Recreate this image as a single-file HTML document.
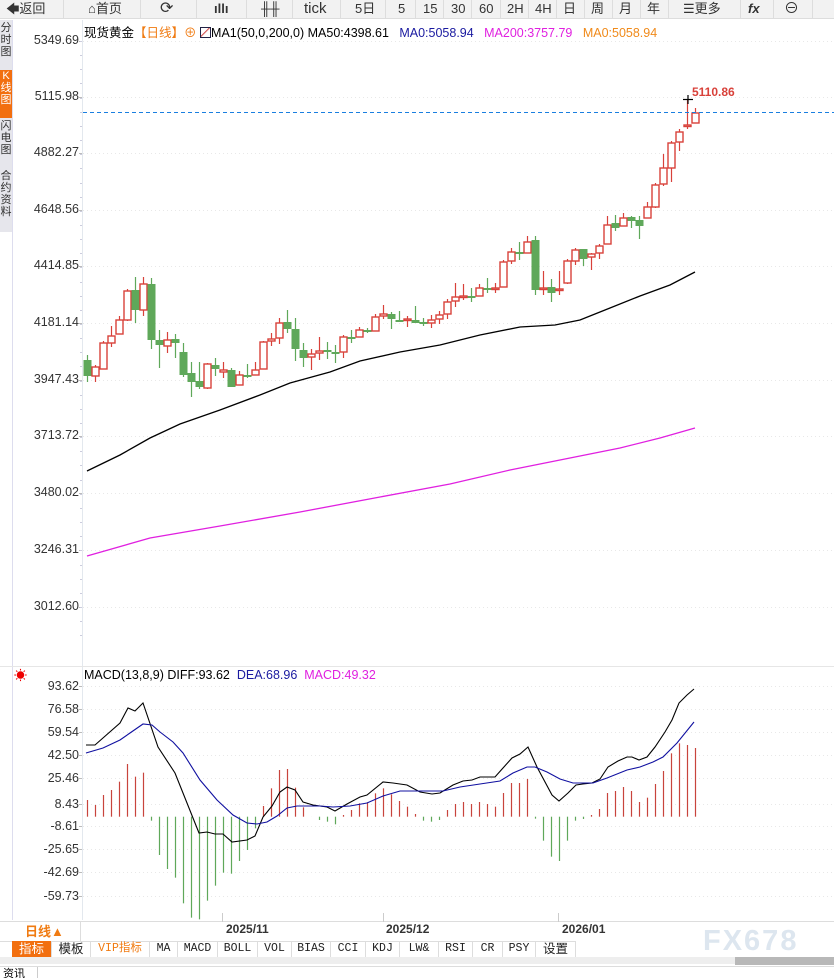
<!DOCTYPE html>
<html><head><meta charset="utf-8">
<style>
*{margin:0;padding:0;box-sizing:border-box}
body{width:834px;height:978px;overflow:hidden;background:#fff;font-family:"Liberation Sans","Noto Sans CJK SC",sans-serif;position:relative}
.abs{position:absolute;white-space:nowrap}
#tb{position:absolute;left:0;top:0;width:834px;height:19px;background:#f2f2f2;border-bottom:1px solid #ddd}
#tb span{position:absolute;top:0;height:19px;line-height:18px;font-size:13px;color:#333}
.sep{position:absolute;top:0;width:1px;height:19px;background:#ddd}
#ls{position:absolute;left:0;top:20px;width:12px;height:212px;background:#e6e6ec}
#ls div{position:absolute;left:0;width:12px;font-size:11px;line-height:12px;color:#333;text-align:center;word-break:break-all;overflow:hidden}
.yl{position:absolute;right:755px;font-size:12.5px;color:#333;text-align:right}
.tab{position:absolute;top:941px;height:16px;line-height:16px;font-size:11.5px;color:#222;text-align:center;border-right:1px solid #ddd;font-family:"Liberation Mono","Noto Sans CJK SC",monospace}
</style></head><body>
<div id="tb">
<span style="left:6px">🡄返回</span><div class="sep" style="left:63px"></div>
<span style="left:88px">⌂首页</span><div class="sep" style="left:140px"></div>
<span style="left:160px;font-size:16px">⟳</span><div class="sep" style="left:196px"></div>
<span style="left:214px;font-weight:bold">ıllı</span><div class="sep" style="left:246px"></div>
<span style="left:261px;font-weight:bold">╫╫</span><div class="sep" style="left:292px"></div>
<span style="left:304px;font-size:15px">tick</span><div class="sep" style="left:340px"></div>
<span style="left:355px">5日</span><div class="sep" style="left:385px"></div>
<span style="left:398px">5</span><div class="sep" style="left:415px"></div>
<span style="left:423px">15</span><div class="sep" style="left:443px"></div>
<span style="left:451px">30</span><div class="sep" style="left:471px"></div>
<span style="left:479px">60</span><div class="sep" style="left:500px"></div>
<span style="left:507px">2H</span><div class="sep" style="left:528px"></div>
<span style="left:535px">4H</span><div class="sep" style="left:556px"></div>
<span style="left:563px">日</span><div class="sep" style="left:584px"></div>
<span style="left:591px">周</span><div class="sep" style="left:612px"></div>
<span style="left:619px">月</span><div class="sep" style="left:640px"></div>
<span style="left:647px">年</span><div class="sep" style="left:668px"></div>
<span style="left:683px">☰更多</span><div class="sep" style="left:740px"></div>
<span style="left:748px;font-weight:bold;font-style:italic">fx</span><div class="sep" style="left:773px"></div>
<span style="left:784px;font-size:15px">⊖</span><div class="sep" style="left:812px"></div>
</div>
<div id="ls">
<div style="top:2px;height:46px">分时图</div>
<div style="top:50px;height:48px;background:#f26f0f;color:#fff">K线图</div>
<div style="top:100px;height:46px">闪电图</div>
<div style="top:150px;height:60px">合约资料</div>
</div>
<div class="abs" style="left:12px;top:20px;width:1px;height:900px;background:#dde"></div>
<div class="abs" style="left:82px;top:20px;width:1px;height:900px;background:#e3e8ee"></div>
<div class="abs" style="left:0;top:666px;width:834px;height:1px;background:#e6e6e6"></div>

<div class="abs" style="left:84px;top:22px;font-size:12.5px;color:#000">现货黄金<span style="color:#f07b12">【日线】</span><span style="color:#f07b12">⊕</span> <span style="display:inline-block;width:11px;height:11px;border:1px solid #224;vertical-align:-1px;background:linear-gradient(135deg,#fff 40%,#c33 45%,#fff 55%)"></span>MA1(50,0,200,0) MA50:4398.61&nbsp;&nbsp;&nbsp;<span style="color:#1a1aa0">MA0:5058.94</span>&nbsp;&nbsp;&nbsp;<span style="color:#e020e0">MA200:3757.79</span>&nbsp;&nbsp;&nbsp;<span style="color:#f08a1a">MA0:5058.94</span></div>

<div class="yl" style="top:33px">5349.69</div>
<div class="yl" style="top:89px">5115.98</div>
<div class="yl" style="top:145px">4882.27</div>
<div class="yl" style="top:202px">4648.56</div>
<div class="yl" style="top:258px">4414.85</div>
<div class="yl" style="top:315px">4181.14</div>
<div class="yl" style="top:372px">3947.43</div>
<div class="yl" style="top:428px">3713.72</div>
<div class="yl" style="top:485px">3480.02</div>
<div class="yl" style="top:542px">3246.31</div>
<div class="yl" style="top:599px">3012.60</div>

<div class="abs" style="left:14px;top:665px;color:#e00;font-size:13px">☀</div>
<div class="abs" style="left:84px;top:668px;font-size:12.5px;color:#000">MACD(13,8,9) DIFF:93.62&nbsp;&nbsp;<span style="color:#1a1aa0">DEA:68.96</span>&nbsp;&nbsp;<span style="color:#e020e0">MACD:49.32</span></div>
<div class="yl" style="top:679px">93.62</div>
<div class="yl" style="top:702px">76.58</div>
<div class="yl" style="top:725px">59.54</div>
<div class="yl" style="top:748px">42.50</div>
<div class="yl" style="top:771px">25.46</div>
<div class="yl" style="top:797px">8.43</div>
<div class="yl" style="top:819px">-8.61</div>
<div class="yl" style="top:842px">-25.65</div>
<div class="yl" style="top:865px">-42.69</div>
<div class="yl" style="top:889px">-59.73</div>

<svg id="sv" class="abs" style="left:0;top:0" width="834" height="978"></svg>

<div class="abs" style="left:0;top:921px;width:834px;height:1px;background:#ddd"></div>
<div class="abs" style="left:12px;top:922px;width:69px;height:19px;border-right:1px solid #ddd;color:#f07b12;font-size:13px;line-height:19px;padding-left:13px;font-weight:bold">日线▲</div>
<div class="abs" style="left:226px;top:922px;font-size:12px;font-weight:bold;color:#333">2025/11</div>
<div class="abs" style="left:386px;top:922px;font-size:12px;font-weight:bold;color:#333">2025/12</div>
<div class="abs" style="left:562px;top:922px;font-size:12px;font-weight:bold;color:#333">2026/01</div>
<div class="abs" style="left:222px;top:913px;width:1px;height:9px;background:#ccc"></div>
<div class="abs" style="left:383px;top:913px;width:1px;height:9px;background:#ccc"></div>
<div class="abs" style="left:558px;top:913px;width:1px;height:9px;background:#ccc"></div>
<div class="abs" style="left:0;top:941px;width:576px;height:1px;background:#ddd"></div>
<div class="tab" style="left:12px;width:40px;background:#f26f0f;color:#fff;font-family:'Liberation Sans','Noto Sans CJK SC',sans-serif;font-size:12.5px">指标</div>
<div class="tab" style="left:52px;width:39px;font-family:'Liberation Sans','Noto Sans CJK SC',sans-serif;font-size:12.5px">模板</div>
<div class="tab" style="left:91px;width:59px;color:#f07b12">VIP指标</div>
<div class="tab" style="left:150px;width:28px">MA</div>
<div class="tab" style="left:178px;width:40px">MACD</div>
<div class="tab" style="left:218px;width:40px">BOLL</div>
<div class="tab" style="left:258px;width:34px">VOL</div>
<div class="tab" style="left:292px;width:39px">BIAS</div>
<div class="tab" style="left:331px;width:35px">CCI</div>
<div class="tab" style="left:366px;width:34px">KDJ</div>
<div class="tab" style="left:400px;width:39px">LW&amp;</div>
<div class="tab" style="left:439px;width:34px">RSI</div>
<div class="tab" style="left:473px;width:30px">CR</div>
<div class="tab" style="left:503px;width:33px">PSY</div>
<div class="tab" style="left:536px;width:40px;font-family:'Liberation Sans','Noto Sans CJK SC',sans-serif;font-size:12.5px">设置</div>
<div class="abs" style="left:703px;top:925px;font-size:29px;color:#dde6ef;letter-spacing:2px;font-weight:bold">FX678</div>
<div class="abs" style="left:0;top:957px;width:834px;height:7px;background:#eeeeee"></div>
<div class="abs" style="left:735px;top:957px;width:99px;height:8px;background:#b8b8b8"></div>
<div class="abs" style="left:0;top:966px;width:834px;height:1px;background:#ddd"></div>
<div class="abs" style="left:0;top:967px;width:38px;height:11px;border-right:1px solid #ccc;font-size:11px;line-height:14px;padding-left:3px;overflow:hidden">资讯</div>

<script>
var S='';
function L(x1,y1,x2,y2,c,w,d){S+='<line x1="'+x1+'" y1="'+y1+'" x2="'+x2+'" y2="'+y2+'" stroke="'+c+'" stroke-width="'+(w||1)+'"'+(d?' stroke-dasharray="'+d+'"':'')+'/>';}
[41,97,153,210,266,323,380,436,493,550,607].forEach(function(y){L(83,y+.5,834,y+.5,'#e8e8e8',1,'1,3');L(79,y+.5,82,y+.5,'#bbb');});
for(var y=41;y<640;y+=14.15){L(80,Math.round(y)+.5,82,Math.round(y)+.5,'#ccd');}
[686,709,732,755,778,804,826,849,872,896].forEach(function(y){L(83,y+.5,834,y+.5,'#e8e8e8',1,'1,3');L(79,y+.5,82,y+.5,'#bbb');});
var C=[[355,360,376,382,0],[365,367,376,382,1],[341,343,369,369,1],[326,336,343,347,1],[316,320,334,334,1],[289,291,320,321,1],[277,290,310,323,0],[277,284,310,316,1],[278,284,340,349,0],[330,340,345,368,0],[332,340,346,353,1],[334,339,343,358,0],[343,352,375,377,0],[362,373,382,397,0],[362,381,387,389,0],[363,364,388,389,1],[358,365,369,376,0],[362,370,372,378,1],[368,370,387,387,0],[371,375,385,385,1],[364,375,376,378,0],[362,370,375,375,1],[341,342,369,369,1],[333,339,341,346,1],[318,323,338,344,1],[310,322,329,333,0],[318,329,349,361,0],[343,350,358,367,0],[349,354,357,370,1],[337,351,353,360,1],[342,350,351,359,0],[345,352,353,363,0],[335,337,352,358,1],[330,337,339,343,0],[327,330,337,337,1],[328,330,331,333,0],[314,317,331,331,1],[305,314,316,319,1],[312,314,319,329,0],[311,320,321,321,0],[316,319,320,327,1],[306,320,323,323,0],[318,322,323,326,0],[315,320,323,328,1],[311,315,319,324,1],[299,302,314,319,1],[283,297,301,307,1],[284,296,297,300,1],[288,296,297,302,0],[284,288,296,296,1],[278,288,288,293,0],[283,288,288,293,1],[260,262,287,287,1],[248,252,261,264,1],[242,252,253,260,0],[236,242,253,253,1],[236,240,290,295,0],[271,288,289,295,1],[279,287,293,302,0],[271,289,290,295,1],[259,261,283,284,1],[248,250,261,265,1],[249,249,259,266,0],[253,254,257,270,1],[244,246,253,259,1],[216,225,244,244,1],[215,223,228,231,0],[213,218,226,226,1],[216,217,221,228,0],[216,220,226,239,0],[202,207,218,218,1],[183,185,207,208,1],[154,168,184,186,1],[141,143,168,182,1],[129,132,142,151,1],[99,125,125,129,1],[108,113,123,123,1]];
var R='#d8413a',G='#5fa85a';
function P(a,c,w){S+='<polyline fill="none" stroke="'+c+'" stroke-width="'+(w||1)+'" points="'+a.map(function(p){return p.join(',')}).join(' ')+'"/>';}
P([[87,556],[150,538],[220,526],[300,512],[380,497],[450,484],[510,470],[550,462],[620,448],[660,438],[695,428]],'#e020e0',1.3);
P([[87,471],[120,455],[150,438],[180,424],[220,410],[260,395],[290,383],[330,372],[360,361],[400,352],[440,345],[480,335],[520,327],[555,325],[580,320],[610,308],[640,296],[670,285],[695,272]],'#000',1.3);
C.forEach(function(c,i){var x=Math.round(87.3+8*i);var col=c[4]?R:G;
L(x+.5,c[0],x+.5,c[3],col,1.2);
var h=Math.max(c[2]-c[1],1.5);
if(c[4]) S+='<rect x="'+(x-3)+'" y="'+c[1]+'" width="7" height="'+h+'" fill="#fff" stroke="'+R+'" stroke-width="1.4"/>';
else S+='<rect x="'+(x-3.5)+'" y="'+c[1]+'" width="8" height="'+Math.max(h,2)+'" fill="'+G+'"/>';});
L(83,112.5,834,112.5,'#1a7fe0',1,'4,3');
L(683,99.5,693,99.5,'#000',1.2);L(688,95,688,104,'#000',1.2);
S+='<text x="692" y="96" font-size="12" font-weight="bold" fill="#d8413a" font-family="Liberation Sans">5110.86</text>';
var H=[420,435,405,390,365,312,350,338,482,585,627,653,730,773,778,722,677,638,641,603,570,505,438,385,330,327,383,442,470,480,485,493,465,450,430,427,400,385,403,423,440,462,482,485,480,450,432,426,432,426,432,440,399,369,369,357,476,542,590,603,542,482,477,465,447,399,393,381,393,426,413,372,333,280,250,255,264];
var z=816.7;
H.forEach(function(Y,i){var x=Math.round(87.3+8*i)+.5;var y=660+Y/3;var up=Y<470;
L(x,z,x,y,up?'#c8443c':'#5fa85a',1.2);});
P([[86,745],[95,745],[120,723],[128,708],[135,711],[143,703],[158,747],[175,773],[199,833],[207,832],[215,834],[223,834],[232,842],[247,840],[255,836],[263,817],[272,806],[280,792],[287,787],[295,790],[303,802],[313,805],[327,807],[335,811],[347,804],[360,797],[367,795],[383,782],[393,783],[400,784],[407,785],[420,792],[432,794],[440,793],[453,785],[463,781],[472,780],[480,777],[495,777],[503,768],[512,758],[520,754],[528,747],[537,767],[552,795],[559,801],[568,793],[576,785],[583,784],[592,783],[600,779],[608,767],[618,761],[627,757],[632,757],[639,760],[647,757],[655,747],[665,732],[672,720],[679,703],[687,695],[694,689]],'#000',1.1);
P([[86,753],[103,748],[120,740],[130,733],[143,724],[152,725],[160,732],[173,742],[183,753],[200,780],[217,800],[233,815],[247,823],[257,824],[267,822],[277,816],[287,808],[297,806],[320,806],[333,807],[350,806],[367,803],[383,796],[400,791],[427,791],[443,791],[460,787],[480,784],[500,781],[513,773],[527,767],[535,767],[547,772],[560,779],[573,783],[593,783],[607,778],[627,770],[640,767],[653,762],[663,757],[677,743],[694,722]],'#1010a0',1.1);
document.getElementById('sv').innerHTML=S;
</script>
</body></html>
